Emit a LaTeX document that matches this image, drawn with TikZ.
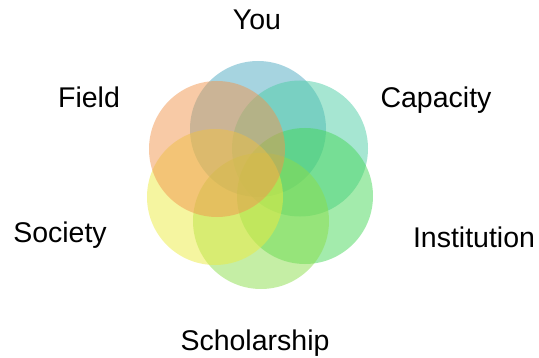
\documentclass[tikz,border=0pt]{standalone}
\usepackage{fontspec}
\setmainfont{Liberation Sans}
\definecolor{youblue}{RGB}{77,169,193}
\definecolor{capteal}{RGB}{77,205,165}
\definecolor{instgreen}{RGB}{71,215,89}
\definecolor{scholgreen}{RGB}{139,221,75}
\definecolor{socyellow}{RGB}{235,235,65}
\definecolor{fieldorange}{RGB}{241,149,77}
\tikzset{lbl/.style={font=\fontsize{28.5}{34}\selectfont, inner sep=0pt, anchor=base}}

\begin{document}
\begin{tikzpicture}[x=1pt,y=1pt]
\def\colorlist{{"youblue", "capteal", "instgreen", "scholgreen", "socyellow", "fieldorange"}}
\useasboundingbox (0,0) rectangle (539,357);

\foreach \x/\y [count=\xi starting from 0] in {258/228, 300/208.5, 305/161, 261/136, 215/160, 217/208} {%
    \pgfmathsetmacro\myfill{\colorlist[\xi]}
    \fill[\myfill, fill opacity=.5] (\x,\y) circle (68pt);
}

\node[lbl] (you) at (257,327.7) {You};
\node[lbl] (capacity) at (436,249) {Capacity};
\node[lbl] (institution) at (474,110) {Institution};
\node[lbl] (scholarship) at (255,7) {Scholarship};
\node[lbl] (society) at (60,115) {Society};
\node[lbl] (field) at (89,249) {Field};
\end{tikzpicture}
\end{document}
